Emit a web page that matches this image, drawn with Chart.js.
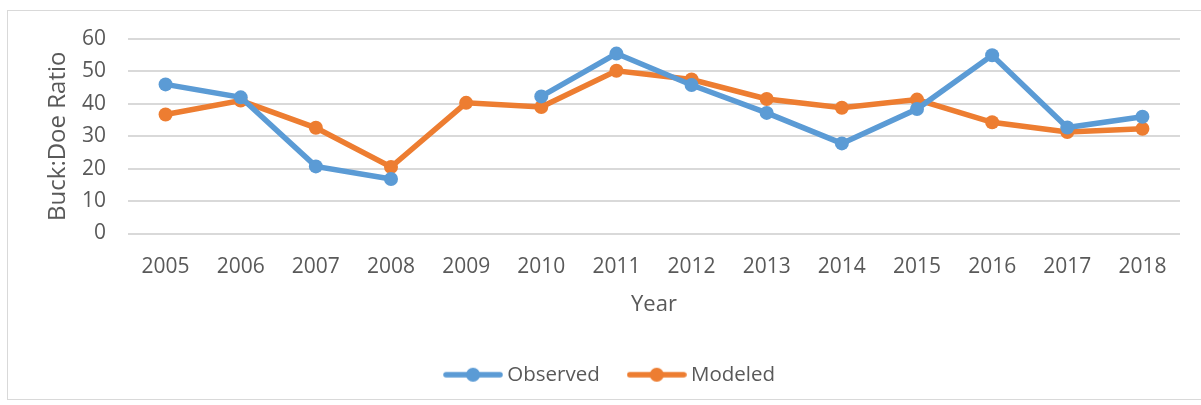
<!DOCTYPE html>
<html>
<head>
<meta charset="utf-8">
<script src="https://cdn.jsdelivr.net/npm/chart.js@4.4.1/dist/chart.umd.min.js"></script>
<style>
  html, body { margin: 0; padding: 0; background: #fff; }
  #wrap { position: relative; width: 1201px; height: 405px; }
  #frame { position: absolute; left: 7px; top: 10px; width: 1200px; height: 390px;
           border: 1px solid #D9D9D9; box-sizing: border-box; }
  canvas { position: absolute; left: 0; top: 0; }
</style>
</head>
<body>
<div id="wrap">
  <div id="frame"></div>
  <canvas id="chart" width="1201" height="405"></canvas>
</div>
<script>
// Buck:Doe ratio, observed vs modeled, 2005-2018
const YEARS    = ["2005", "2006", "2007", "2008", "2009", "2010", "2011",
                  "2012", "2013", "2014", "2015", "2016", "2017", "2018"];
const OBSERVED = [46, 42, 20.7, 16.8, null, 42.3, 55.5, 45.8, 37.2, 27.8, 38.4, 55, 32.7, 36];
const MODELED  = [36.7, 41, 32.6, 20.5, 40.3, 39, 50.2, 47.5, 41.5, 38.8, 41.3, 34.3, 31.3, 32.3];
const Y_TICKS  = [0, 10, 20, 30, 40, 50, 60];

const BLUE   = "#5B9BD5";
const ORANGE = "#ED7D31";
const TEXT   = "#595959";
const GRID   = "#D9D9D9";
const FONT   = "'Open Sans', 'Liberation Sans', sans-serif";

// legend icon: short line with a dot, like the spreadsheet legend
function legendIcon(color) {
  const c = document.createElement("canvas");
  c.width = 60; c.height = 16;
  const g = c.getContext("2d");
  g.strokeStyle = color;
  g.lineWidth = 5.5;
  g.lineCap = "round";
  g.beginPath(); g.moveTo(3, 8); g.lineTo(57, 8); g.stroke();
  g.fillStyle = color;
  g.beginPath(); g.arc(30, 8, 7, 0, Math.PI * 2); g.fill();
  return c;
}

const ctx = document.getElementById("chart");
new Chart(ctx, {
  type: "line",
  data: {
    labels: YEARS,
    datasets: [
      {
        label: "Observed",
        data: OBSERVED,
        borderColor: BLUE,
        backgroundColor: BLUE,
        borderWidth: 5.5,
        pointRadius: 7,
        pointHoverRadius: 7,
        pointBorderWidth: 0,
        spanGaps: false,
        tension: 0,
      },
      {
        label: "Modeled",
        data: MODELED,
        borderColor: ORANGE,
        backgroundColor: ORANGE,
        borderWidth: 5.5,
        pointRadius: 7,
        pointHoverRadius: 7,
        pointBorderWidth: 0,
        tension: 0,
      },
    ],
  },
  options: {
    responsive: false,
    animation: false,
    layout: { padding: { top: 39, right: 21, left: 44, bottom: 10 } },
    plugins: {
      tooltip: { enabled: false },
      legend: {
        position: "bottom",
        labels: {
          font: { family: FONT, size: 20.5 },
          color: TEXT,
          padding: 33,
          boxWidth: 48,
          boxHeight: 16,
          usePointStyle: true,
          pointStyleWidth: 48,
          generateLabels: chart => chart.data.datasets.map((ds, i) => ({
            text: ds.label,
            fontColor: TEXT,
            pointStyle: legendIcon(ds.borderColor),
            datasetIndex: i,
            lineWidth: 0,
          })),
        },
      },
    },
    scales: {
      x: {
        offset: true,
        grid: { display: false },
        border: { display: false },
        ticks: { font: { family: FONT, size: 21 }, color: TEXT, padding: 13, maxRotation: 0 },
        title: { display: true, text: "Year", font: { family: FONT, size: 22 }, color: TEXT,
                 padding: { top: 0, bottom: 14 } },
        afterFit: axis => { axis.height = 98; },
      },
      y: {
        min: 0,
        max: 60,
        afterBuildTicks: axis => { axis.ticks = Y_TICKS.map(v => ({ value: v })); },
        grid: { color: GRID, lineWidth: 2, drawTicks: false },
        border: { display: false },
        ticks: { font: { family: FONT, size: 21 }, color: TEXT, padding: 22 },
        title: { display: true, text: "Buck:Doe Ratio", font: { family: FONT, size: 24 }, color: TEXT,
                 padding: { top: 0, bottom: 0 } },
        afterFit: axis => { axis.width = 84; },
      },
    },
  },
});
</script>
</body>
</html>
